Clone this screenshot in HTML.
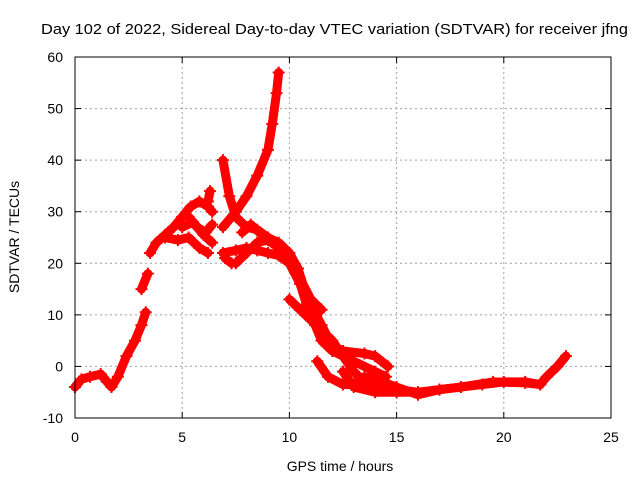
<!DOCTYPE html>
<html><head><meta charset="utf-8"><style>
html,body{margin:0;padding:0;background:#fff;}
svg{display:block;font-family:"Liberation Sans",sans-serif;}
</style></head><body>
<svg id="chart" width="640" height="480" viewBox="0 0 640 480">
<rect width="640" height="480" fill="#fff"/>
<text x="41" y="34" font-size="15" textLength="587" lengthAdjust="spacingAndGlyphs">Day 102 of 2022, Sidereal Day-to-day VTEC variation (SDTVAR) for receiver jfng</text>
<g id="grid"></g>
<g id="series"></g>
<rect x="75" y="57" width="536" height="361" fill="none" stroke="#000" stroke-width="1"/>
<g id="axes"></g>
<text x="340" y="471" font-size="14" text-anchor="middle">GPS time / hours</text>
<text transform="translate(19,237) rotate(-90)" font-size="14" text-anchor="middle">SDTVAR / TECUs</text>
</svg>
<script>
const xTicks=[0,5,10,15,20,25];
const yTicks=[-10,0,10,20,30,40,50,60];
const trackA=[[0,-4],[0.3,-2.5],[0.7,-2],[1.2,-1.5],[1.5,-3],[1.7,-4],[2.0,-2],[2.4,2],[2.8,5],[3.1,8],[3.3,10.5]];
const trackA2=[[3.1,15],[3.4,18]];
const trackB=[[3.5,22],[3.8,24],[4.2,25.5],[4.6,27],[5.0,29],[5.4,31],[5.8,32],[6.2,31],[6.4,30]];
const trackC=[[4.2,25],[4.8,24.5],[5.3,25],[5.8,23],[6.2,22]];
const trackD=[[5.0,27],[5.5,28],[6.0,25.5],[6.4,24]];
const trackD2=[[5.3,29],[5.7,27],[6.1,26],[6.4,27.5]];
const trackE=[[6.9,27],[7.5,30],[8.0,33],[8.5,37],[9.0,42],[9.2,47],[9.4,53],[9.5,57]];
const trackF=[[6.9,40],[7.2,33],[7.5,29],[8,27],[8.5,26.5],[9,25],[9.5,24],[10,22],[10.4,19],[10.7,15],[11,12],[11.5,8],[12,4],[12.5,3],[13.5,2.5],[14,2],[14.6,0]];
const trackG=[[6.9,22],[7.5,22.5],[8,23],[8.5,22.5],[9,22],[9.5,21.5],[10,20],[10.5,16],[10.8,12],[11.2,8],[11.5,5],[12,3],[13,1],[14,-1],[14.5,-2]];
const trackH=[[7.5,20],[8,22],[8.5,24],[9,24.5],[9.5,23],[10,21],[10.5,17],[11,13],[11.5,11]];
const trackI=[[10,13],[10.5,11],[11,9],[11.5,7],[12,5],[12.5,2],[13,-1],[13.5,-3],[14,-4],[15,-4.5],[16,-5],[17,-4.5],[18,-4],[19,-3.5],[20,-3],[21,-3],[21.7,-3.5],[22,-2],[22.5,0],[22.9,2]];
const trackJ=[[11.3,1],[11.8,-2],[12.5,-3.5],[13,-3.5],[13.5,-2],[14,-2.5],[15,-4],[16,-5.5],[17,-4.5],[18,-4],[19.5,-3],[21,-3.2],[21.7,-3.5]];
const trackK=[[12.5,-1],[13,-4],[14,-5],[15,-5],[16,-5]];
const trackL=[[7.8,26],[8.2,27.5],[8.6,26],[9,25]];
const trackM=[[7.0,21],[7.3,20]];
const trackN=[[6.2,32],[6.3,34]];
const tracks=[trackA,trackA2,trackB,trackC,trackD,trackD2,trackE,trackF,trackG,trackH,trackI,trackJ,trackK,trackL,trackM,trackN];

const NS="http://www.w3.org/2000/svg";
const X0=75,X1=611,Y0=418,Y1=57;
function sx(t){return X0+(t-0)/(25-0)*(X1-X0);}
function sy(v){return Y0-(v+10)/(60+10)*(Y0-Y1);}
const grid=document.getElementById('grid'),axes=document.getElementById('axes'),ser=document.getElementById('series');
function mk(tag,attrs,parent){const e=document.createElementNS(NS,tag);for(const k in attrs)e.setAttribute(k,attrs[k]);parent.appendChild(e);return e;}
xTicks.forEach(t=>{
  const x=sx(t);
  if(t>0&&t<25){const g=mk('line',{x1:x,x2:x,y1:Y1,y2:Y0,stroke:'#a0a0a0','stroke-dasharray':'2,3'},grid);
  
  }
  mk('line',{x1:x,x2:x,y1:Y0,y2:Y0-6,stroke:'#000'},axes);
  mk('line',{x1:x,x2:x,y1:Y1,y2:Y1+6,stroke:'#000'},axes);
  const l=mk('text',{x:x,y:Y0+24,'font-size':14,'text-anchor':'middle'},axes);l.textContent=t;
  
  
});
yTicks.forEach(v=>{
  const y=sy(v);
  if(v>-10&&v<60){const g=mk('line',{x1:X0,x2:X1,y1:y,y2:y,stroke:'#a0a0a0','stroke-dasharray':'2,3'},grid);
  
  }
  mk('line',{x1:X0,x2:X0+6,y1:y,y2:y,stroke:'#000'},axes);
  mk('line',{x1:X1,x2:X1-6,y1:y,y2:y,stroke:'#000'},axes);
  const l=mk('text',{x:X0-12,y:y+5,'font-size':14,'text-anchor':'end'},axes);l.textContent=v;
  
  
});
tracks.forEach(tr=>{
  const pts=tr.map(p=>sx(p[0])+','+sy(p[1])).join(' ');
  const pl=mk('polyline',{points:pts,fill:'none',stroke:'#ff0000','stroke-width':9,'stroke-linejoin':'round','stroke-linecap':'round'},ser);
  
  
  tr.forEach(p=>{
    const x=sx(p[0]),y=sy(p[1]);
    const m=mk('path',{d:`M${x-6},${y}H${x+6}M${x},${y-6}V${y+6}`,stroke:'#ff0000','stroke-width':2},ser);
    
    
  });
});
</script>
</body></html>
